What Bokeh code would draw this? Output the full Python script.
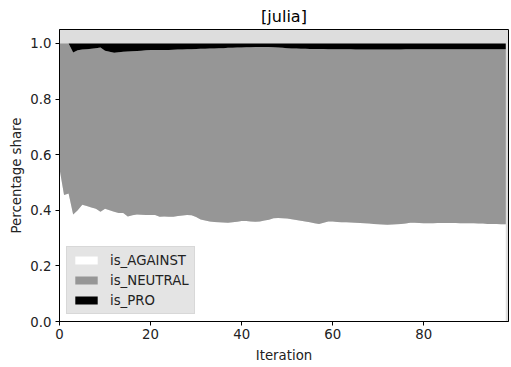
from bokeh.plotting import figure
from bokeh.models import ColumnDataSource, Range1d, FixedTicker, PrintfTickFormatter, Legend
from bokeh.embed import file_html
from bokeh.resources import INLINE

iteration = list(range(99))
is_against = [0.55, 0.455, 0.46, 0.385, 0.40, 0.42, 0.415, 0.41, 0.405, 0.395,
              0.405, 0.40, 0.395, 0.39, 0.39, 0.378, 0.382, 0.385, 0.384, 0.383,
              0.383, 0.383, 0.377, 0.378, 0.377, 0.377, 0.379, 0.381, 0.383, 0.382,
              0.376, 0.367, 0.363, 0.36, 0.358, 0.357, 0.356, 0.355, 0.357, 0.359,
              0.361, 0.361, 0.36, 0.359, 0.36, 0.363, 0.366, 0.371, 0.372, 0.371,
              0.37, 0.368, 0.365, 0.362, 0.36, 0.357, 0.353, 0.351, 0.355, 0.36,
              0.36, 0.358, 0.357, 0.357, 0.356, 0.355, 0.354, 0.353, 0.352, 0.351,
              0.35, 0.349, 0.348, 0.349, 0.35, 0.351, 0.352, 0.355, 0.355, 0.354,
              0.353, 0.353, 0.353, 0.354, 0.354, 0.354, 0.354, 0.354, 0.353, 0.353,
              0.353, 0.353, 0.352, 0.352, 0.351, 0.351, 0.351, 0.35, 0.35]
is_neutral = [0.45, 0.545, 0.54, 0.582, 0.575, 0.558, 0.564, 0.571, 0.578, 0.59,
              0.569, 0.57, 0.571, 0.578, 0.58, 0.593, 0.59, 0.588, 0.59, 0.592,
              0.593, 0.593, 0.599, 0.598, 0.599, 0.60, 0.599, 0.597, 0.596, 0.597,
              0.604, 0.614, 0.618, 0.622, 0.624, 0.626, 0.627, 0.629, 0.627, 0.626,
              0.624, 0.625, 0.626, 0.628, 0.627, 0.624, 0.621, 0.615, 0.613, 0.613,
              0.613, 0.614, 0.617, 0.619, 0.621, 0.623, 0.627, 0.629, 0.625, 0.619,
              0.619, 0.621, 0.622, 0.622, 0.623, 0.623, 0.624, 0.625, 0.626, 0.627,
              0.628, 0.629, 0.63, 0.629, 0.628, 0.627, 0.627, 0.624, 0.624, 0.625,
              0.626, 0.626, 0.626, 0.625, 0.625, 0.625, 0.625, 0.625, 0.626, 0.626,
              0.626, 0.626, 0.627, 0.627, 0.628, 0.628, 0.628, 0.629, 0.629]
is_pro = [0.0, 0.0, 0.0, 0.033, 0.025, 0.022, 0.021, 0.019, 0.017, 0.015,
          0.026, 0.030, 0.034, 0.032, 0.030, 0.029, 0.028, 0.027, 0.026, 0.025,
          0.024, 0.024, 0.024, 0.024, 0.024, 0.023, 0.022, 0.022, 0.021, 0.021,
          0.020, 0.019, 0.019, 0.018, 0.018, 0.017, 0.017, 0.016, 0.016, 0.015,
          0.015, 0.014, 0.014, 0.013, 0.013, 0.013, 0.013, 0.014, 0.015, 0.016,
          0.017, 0.018, 0.018, 0.019, 0.019, 0.020, 0.020, 0.020, 0.020, 0.021,
          0.021, 0.021, 0.021, 0.021, 0.021, 0.022, 0.022, 0.022, 0.022, 0.022,
          0.022, 0.022, 0.022, 0.022, 0.022, 0.022, 0.021, 0.021, 0.021, 0.021,
          0.021, 0.021, 0.021, 0.021, 0.021, 0.021, 0.021, 0.021, 0.021, 0.021,
          0.021, 0.021, 0.021, 0.021, 0.021, 0.021, 0.021, 0.021, 0.021]

series_names = ["is_AGAINST", "is_NEUTRAL", "is_PRO"]
series_colors = ["#ffffff", "#969696", "#000000"]
x_ticks = [0, 20, 40, 60, 80]
y_ticks = [0.0, 0.2, 0.4, 0.6, 0.8, 1.0]

source = ColumnDataSource(dict(x=iteration, is_AGAINST=is_against,
                               is_NEUTRAL=is_neutral, is_PRO=is_pro))

FONT = "DejaVu Sans"
FS = "13.3px"

p = figure(frame_width=449, frame_height=292, output_backend="svg", toolbar_location=None,
           x_range=Range1d(0, 98.6), y_range=Range1d(0, 1.05),
           min_border_left=59, min_border_right=3, min_border_top=28, min_border_bottom=47,
           title="[julia]", background_fill_color="#dddddd", border_fill_color="white")
p.outline_line_color = "black"
p.outline_line_width = 1
p.grid.visible = False

renderers = p.varea_stack(series_names, x="x", color=series_colors, source=source)

p.title.align = "center"
p.title.text_font = FONT
p.title.text_font_size = "16px"
p.title.text_font_style = "normal"
p.title.text_color = "black"
p.title.standoff = 8

for ax in (p.xaxis[0], p.yaxis[0]):
    ax.major_label_text_font = FONT
    ax.major_label_text_font_size = FS
    ax.major_label_text_color = "#222222"
    ax.axis_label_text_font = FONT
    ax.axis_label_text_font_size = FS
    ax.axis_label_text_font_style = "normal"
    ax.axis_label_text_color = "#222222"
    ax.major_tick_out = 4
    ax.major_tick_in = 0
    ax.minor_tick_line_color = None
    ax.axis_line_color = "black"
    ax.major_tick_line_color = "black"

p.xaxis[0].ticker = FixedTicker(ticks=x_ticks)
p.xaxis[0].formatter = PrintfTickFormatter(format="%d")
p.xaxis[0].axis_label = "Iteration"
p.xaxis[0].major_label_standoff = 3
p.xaxis[0].axis_label_standoff = 6
p.yaxis[0].ticker = FixedTicker(ticks=y_ticks)
p.yaxis[0].formatter = PrintfTickFormatter(format="%.1f")
p.yaxis[0].axis_label = "Percentage share"
p.yaxis[0].major_label_standoff = 4
p.yaxis[0].axis_label_standoff = 3

legend = Legend(items=[(n, [r]) for n, r in zip(series_names, renderers)],
                location="bottom_left")
legend.margin = 7
legend.padding = 5
legend.spacing = 4
legend.glyph_width = 28
legend.glyph_height = 10
legend.label_height = 16
legend.label_standoff = 10
legend.label_text_font = FONT
legend.label_text_font_size = FS
legend.label_text_color = "#222222"
legend.background_fill_color = "#e4e4e4"
legend.background_fill_alpha = 1.0
legend.border_line_color = "#cccccc"
legend.border_line_width = 1
p.add_layout(legend, "center")

open("out.html", "w").write(file_html(p, INLINE))
